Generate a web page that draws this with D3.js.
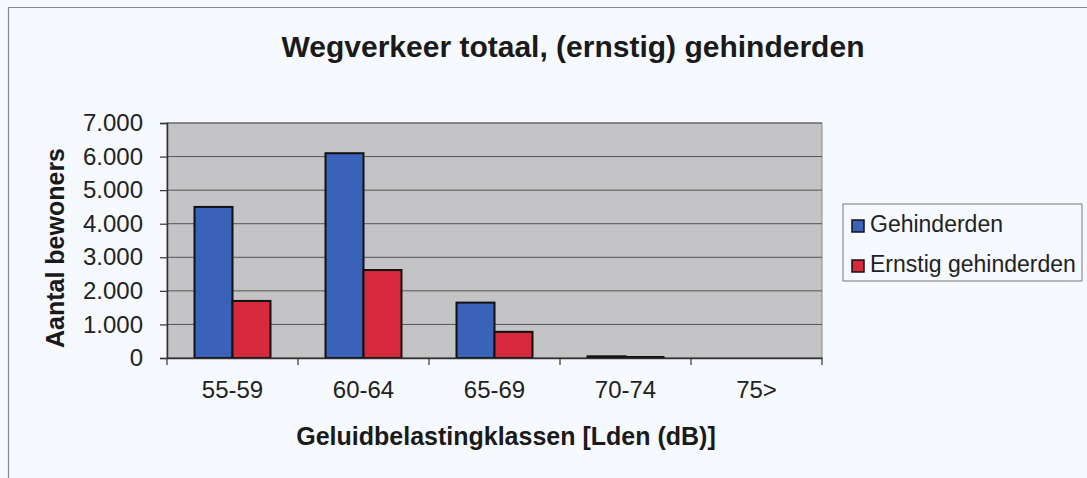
<!DOCTYPE html>
<html>
<head>
<meta charset="utf-8">
<script src="https://cdn.jsdelivr.net/npm/d3@7"></script>
<style>
  body { margin: 0; background: #f6f9fd; }
  svg { display: block; font-family: "Liberation Sans", Arial, sans-serif; }
</style>
</head>
<body>
<svg id="chart"></svg>
<script>
// data
const categories = ["55-59", "60-64", "65-69", "70-74", "75>"];
const gehinderden = [4500, 6100, 1650, 50, 0];
const ernstig = [1700, 2620, 780, 30, 0];
const seriesNames = ["Gehinderden", "Ernstig gehinderden"];
const yTicks = [0, 1000, 2000, 3000, 4000, 5000, 6000, 7000];

const w = 1087;
const h = 478;
const margin = { top: 123, right: 265, bottom: 120, left: 167 };
const colors = ["#3a62b8", "#d62a3c"];

const svg = d3.select("#chart").attr("width", w).attr("height", h);

// outer frame
svg.append("path")
  .attr("d", `M8.5,${h} L8.5,7.5 L${w},7.5`)
  .attr("fill", "none")
  .attr("stroke", "#8a8a8a")
  .attr("stroke-width", 1.2);

const plotW = w - margin.left - margin.right;
const plotH = h - margin.top - margin.bottom;

const x0 = d3.scaleBand().domain(categories).range([0, plotW]).paddingInner(0).paddingOuter(0);
const x1 = d3.scaleBand().domain([0, 1]).range([x0.bandwidth() * 0.21, x0.bandwidth() * 0.79]);
const y = d3.scaleLinear().domain([0, 7000]).range([plotH, 0]);

const g = svg.append("g").attr("transform", `translate(${margin.left},${margin.top})`);

// plot background
g.append("rect")
  .attr("width", plotW)
  .attr("height", plotH)
  .attr("fill", "#c4c4c6")
  .attr("stroke", "#8a8a8a");

// gridlines
g.selectAll(".grid")
  .data(yTicks)
  .enter()
  .append("line")
  .attr("x1", 0)
  .attr("x2", plotW)
  .attr("y1", (d) => y(d))
  .attr("y2", (d) => y(d))
  .attr("stroke", "#555")
  .attr("stroke-width", 1);

// bars
const groups = g.selectAll(".grp")
  .data(categories)
  .enter()
  .append("g")
  .attr("transform", (d) => `translate(${x0(d)},0)`);

groups.selectAll("rect")
  .data((d, i) => [gehinderden[i], ernstig[i]])
  .enter()
  .append("rect")
  .attr("x", (d, j) => x1(j))
  .attr("y", (d) => y(d))
  .attr("width", x1.bandwidth())
  .attr("height", (d) => plotH - y(d))
  .attr("fill", (d, j) => colors[j])
  .attr("stroke", "#111")
  .attr("stroke-width", 2);

// axes
const yAxis = d3.axisLeft(y)
  .tickValues(yTicks)
  .tickSize(7)
  .tickPadding(17)
  .tickFormat((d) => d3.format(",")(d).replace(/,/g, "."));

const yg = g.append("g").call(yAxis);
yg.select(".domain").attr("stroke", "#333").attr("stroke-width", 1.5);
yg.selectAll(".tick line").attr("stroke", "#333").attr("stroke-width", 1.2);
yg.selectAll(".tick text").attr("font-size", 24).attr("fill", "#222");

const xAxis = d3.axisBottom(x0).tickSize(0).tickPadding(23);
const xg = g.append("g").attr("transform", `translate(0,${plotH})`).call(xAxis);
xg.select(".domain").attr("stroke", "#333").attr("stroke-width", 1.5);
xg.selectAll(".tick text").attr("font-size", 24).attr("fill", "#222");

// category boundary ticks
g.selectAll(".xb")
  .data(d3.range(categories.length + 1))
  .enter()
  .append("line")
  .attr("x1", (i) => i * x0.step())
  .attr("x2", (i) => i * x0.step())
  .attr("y1", plotH)
  .attr("y2", plotH + 7)
  .attr("stroke", "#333")
  .attr("stroke-width", 1.2);

// titles
svg.append("text")
  .attr("x", 573)
  .attr("y", 57)
  .attr("text-anchor", "middle")
  .attr("font-size", 30)
  .attr("font-weight", "bold")
  .attr("fill", "#1a1a1a")
  .text("Wegverkeer totaal, (ernstig) gehinderden");

svg.append("text")
  .attr("x", 506)
  .attr("y", 445)
  .attr("text-anchor", "middle")
  .attr("font-size", 25)
  .attr("font-weight", "bold")
  .attr("fill", "#1a1a1a")
  .text("Geluidbelastingklassen [Lden (dB)]");

svg.append("text")
  .attr("transform", "translate(64,248) rotate(-90)")
  .attr("text-anchor", "middle")
  .attr("font-size", 25)
  .attr("font-weight", "bold")
  .attr("fill", "#1a1a1a")
  .text("Aantal bewoners");

// legend
const legend = svg.append("g").attr("transform", "translate(843,204)");
legend.append("rect")
  .attr("width", 239)
  .attr("height", 77)
  .attr("fill", "#f6f9fd")
  .attr("stroke", "#777");

const items = legend.selectAll(".item")
  .data(seriesNames)
  .enter()
  .append("g")
  .attr("transform", (d, i) => `translate(9,${28 + i * 40})`);

items.append("rect")
  .attr("x", 0)
  .attr("y", -12)
  .attr("width", 12)
  .attr("height", 12)
  .attr("fill", (d, i) => colors[i])
  .attr("stroke", "#111")
  .attr("stroke-width", 1.5);

items.append("text")
  .attr("x", 18)
  .attr("y", 0)
  .attr("font-size", 23)
  .attr("fill", "#222")
  .text((d) => d);
</script>
</body>
</html>
